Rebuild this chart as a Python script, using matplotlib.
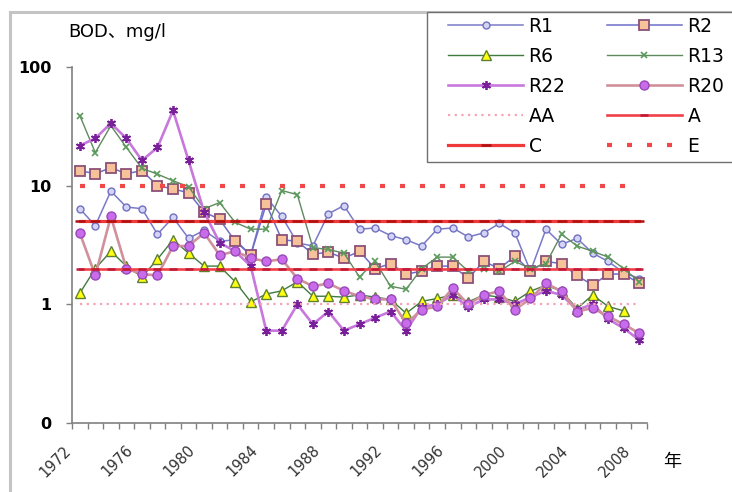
import numpy as np
import matplotlib.pyplot as plt
from matplotlib.patches import Rectangle

plt.rcParams['font.family'] = ['DejaVu Sans', 'Noto Sans CJK SC']

years = list(range(1972, 2009))
tick_years = [1972, 1976, 1980, 1984, 1988, 1992, 1996, 2000, 2004, 2008]

# BOD, mg/l
r1 = [6.4, 4.6, 9.0, 6.6, 6.4, 3.9, 5.4, 3.6, 4.2, 3.4, 3.5, 2.6, 8.0, 5.5, 3.3, 3.1, 5.8, 6.8, 4.3,
      4.4, 3.8, 3.5, 3.1, 4.3, 4.4, 3.7, 4.0, 4.8, 4.0, 1.9, 4.3, 3.2, 3.6, 2.7, 2.3, 1.85, 1.65]
r2 = [13.4, 12.6, 14.2, 12.6, 13.4, 10.0, 9.4, 8.7, 6.0, 5.2, 3.4, 2.6, 7.0, 3.5, 3.4, 2.65, 2.75, 2.45, 2.8,
      2.0, 2.2, 1.8, 1.9, 2.1, 2.1, 1.66, 2.3, 2.0, 2.55, 1.9, 2.3, 2.2, 1.75, 1.45, 1.8, 1.8, 1.5]
r6 = [1.24, 2.0, 2.8, 2.1, 1.7, 2.4, 3.5, 2.7, 2.1, 2.1, 1.55, 1.05, 1.22, 1.3, 1.55, 1.17, 1.17, 1.15, 1.2,
      1.15, 1.1, 0.84, 1.06, 1.12, 1.2, 1.05, 1.2, 1.15, 1.06, 1.29, 1.45, 1.29, 0.92, 1.2, 0.96, 0.88, np.nan]
r13 = [39, 19, 32, 21, 14, 12.5, 11, 9.8, 6.4, 7.2, 4.9, 4.3, 4.3, 9.1, 8.4, 3.0, 2.9, 2.7, 1.7,
       2.3, 1.42, 1.34, 2.0, 2.5, 2.5, 1.9, 2.0, 1.9, 2.3, 2.0, 2.2, 3.9, 3.1, 2.8, 2.5, 2.0, 1.55]
r22 = [21.8, 25, 33.6, 25, 16.3, 21, 43, 16.3, 6.0, 3.3, 2.8, 2.1, 0.6, 0.6, 1.0, 0.68, 0.87, 0.6, 0.68,
       0.77, 0.87, 0.6, 0.95, 1.0, 1.2, 0.95, 1.1, 1.1, 1.0, 1.15, 1.3, 1.2, 0.9, 1.0, 0.75, 0.63, 0.5]
r20 = [4.0, 1.75, 5.5, 2.0, 1.8, 1.75, 3.1, 3.1, 4.0, 2.6, 2.8, 2.45, 2.3, 2.4, 1.65, 1.42, 1.5, 1.3, 1.17,
       1.1, 1.1, 0.69, 0.9, 0.96, 1.37, 1.0, 1.2, 1.29, 0.9, 1.12, 1.5, 1.29, 0.87, 0.93, 0.79, 0.68, 0.57]

# water quality class limits
aa_level = 1
a_level = 2
c_level = 5
e_level = 10

W, H = 732, 492
fig = plt.figure(figsize=(W / 100, H / 100), dpi=100)
ax = fig.add_axes([72 / W, 1 - 423 / H, 575 / W, 356 / H])

x = np.arange(len(years))
n = len(years)

ax.plot(x, r1, color='#7a7ac8', lw=1.1, marker='o', ms=5, mfc='#d4d4f6', mec='#7070c0', mew=1, label='R1')
ax.plot(x, r2, color='#6e6ec8', lw=1.1, marker='s', ms=6.5, mfc='#f6c29a', mec='#8c5078', mew=1.3, label='R2')
ax.plot(x, r6, color='#3f7a3f', lw=1, marker='^', ms=7, mfc='#ffff10', mec='#5f8030', mew=1, label='R6')
ax.plot(x, r13, color='#5e8a5e', lw=1, marker='x', ms=5, mec='#5a9a5a', mew=1.2, label='R13')
ax.plot(x, r22, color='#c878dc', lw=1.9, marker=(6, 2, 0), ms=6.5, mec='#7a1f9a', mew=1.3, label='R22')
ax.plot(x, r20, color='#d0909c', lw=1.9, marker='o', ms=6.5, mfc='#c86cec', mec='#9a48b8', mew=1, label='R20')

ax.plot(x, np.full(n, aa_level), color='#f4a4b6', lw=1.6, ls=(0, (1, 2)), label='AA')
ax.plot(x, np.full(n, a_level), color='#f04048', lw=1.9, marker='_', ms=6, mec='#c01838', mew=1.8, label='A')
ax.plot(x, np.full(n, c_level), color='#f03a3a', lw=2.3, marker='_', ms=7, mec='#b01010', mew=1.8, label='C')
ax.plot(x, np.full(n, e_level), color='#f04848', lw=3, ls=(0, (1.2, 3.6)), label='E')

ax.set_yscale('log')
ax.set_ylim(0.1, 100)
ax.set_xlim(-0.5, n - 0.5)
ax.set_yticks([0.1, 1, 10, 100])
ax.set_yticklabels(['0', '1', '10', '100'])
ax.yaxis.set_minor_locator(plt.NullLocator())
ax.tick_params(axis='y', length=4, width=1, color='#808080', pad=11, labelsize=11.5)
for t in ax.get_yticklabels():
    t.set_fontweight('bold')

# ticks between categories, labels every 4 years
ax.set_xticks(np.arange(-0.5, n, 1))
ax.set_xticklabels([])
ax.tick_params(axis='x', length=4, width=1, color='#808080')
for yr in tick_years:
    ax.annotate(str(yr), xy=(years.index(yr), 0), xycoords=('data', 'axes fraction'),
                xytext=(-8, -18), textcoords='offset points', rotation=45,
                rotation_mode='anchor', ha='right', va='center', fontsize=10.5, color='#333333')

for side in ['top', 'right']:
    ax.spines[side].set_visible(False)
for side in ['left', 'bottom']:
    ax.spines[side].set_color('#808080')
    ax.spines[side].set_linewidth(1.2)

fig.text(68 / W, 1 - 32 / H, 'BOD、mg/l', fontsize=13, va='center', ha='left')
fig.text(672 / W, 1 - 462 / H, '年', fontsize=13, va='center', ha='center', family=['Noto Sans CJK SC'])

# outer chart border
fig.add_artist(Rectangle((10 / W, -0.1), 2, 1.1 - 12 / H, transform=fig.transFigure,
                         fill=False, ec='#c4c4c4', lw=2.2))

# legend box
fig.add_artist(Rectangle((427 / W, 1 - 162 / H), 0.6, 150 / H, transform=fig.transFigure,
                         fill=True, fc='white', ec='#707070', lw=1, zorder=3))
h = {l.get_label(): l for l in ax.get_lines()}
order = ['R1', 'R6', 'R22', 'AA', 'C', 'R2', 'R13', 'R20', 'A', 'E']
leg = fig.legend([h[k] for k in order], order, ncol=2, loc='upper left', frameon=False,
                 bbox_to_anchor=(448 / W, 1 - 17 / H), borderpad=0, borderaxespad=0,
                 fontsize=13.5, handlelength=4.0, handletextpad=0.3, columnspacing=2.2,
                 labelspacing=0.58, numpoints=1)
leg.set_zorder(4)

fig.savefig('out.png', dpi=100, facecolor='white')
